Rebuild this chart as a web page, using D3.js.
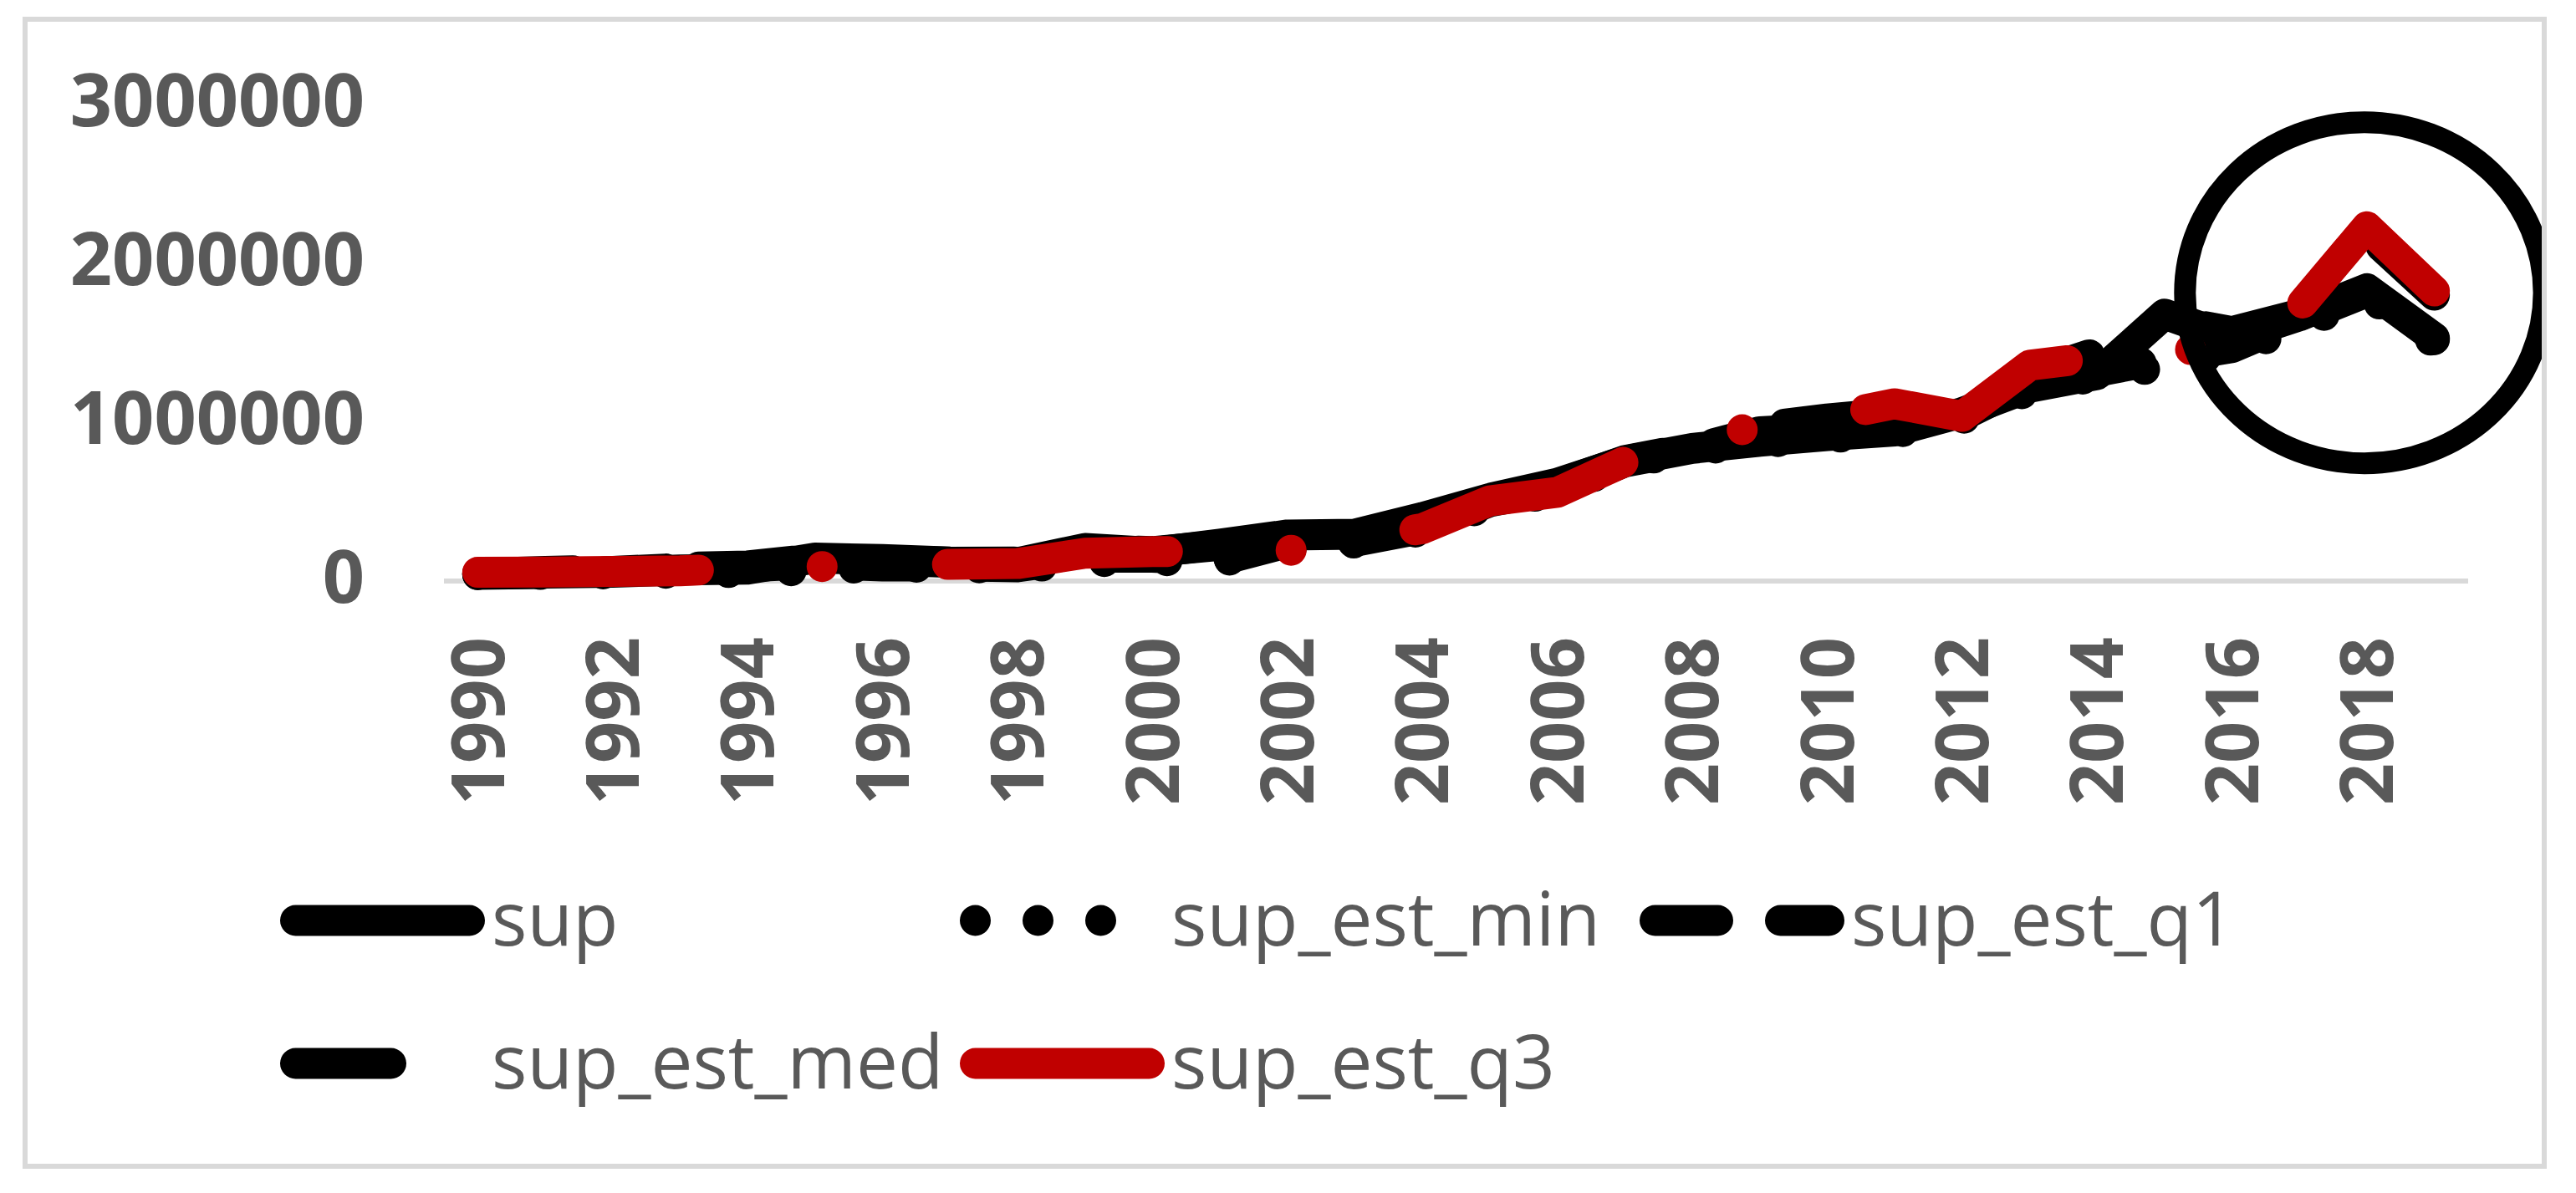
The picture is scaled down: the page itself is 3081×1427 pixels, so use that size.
<!DOCTYPE html>
<html>
<head>
<meta charset="utf-8">
<script src="https://cdn.jsdelivr.net/npm/d3@7"></script>
<style>
  body { margin: 0; background: #fff; }
  svg { display: block; }
  text { font-family: "Open Sans", sans-serif; }
</style>
</head>
<body>
<div id="chart"></div>
<script>
const years = [1990, 1991, 1992, 1993, 1994, 1995, 1996, 1997, 1998, 1999,
               2000, 2001, 2002, 2003, 2004, 2005, 2006, 2007, 2008, 2009,
               2010, 2011, 2012, 2013, 2014, 2015, 2016, 2017, 2018, 2019];

const sup = [45000, 50000, 55000, 70000, 75000, 145000, 135000, 120000, 115000, 205000,
             180000, 232000, 290000, 295000, 400000, 520000, 615000, 755000, 835000, 880000,
             915000, 945000, 1060000, 1220000, 1300000, 1680000, 1530000, 1670000, 1840000, 1530000];
const supEstMin = [40000, 42000, 45000, 50000, 55000, 70000, 90000, 85000, 80000, 120000,
                   130000, 120000, 200000, 240000, 316000, 480000, 560000, 740000, 820000, 870000,
                   900000, 930000, 1020000, 1200000, 1290000, 1350000, 1450000, 1600000, 1800000, 1500000];
const supEstQ1 = [42000, 48000, 60000, 80000, 90000, 110000, 95000, 95000, 90000, 150000,
                  150000, 130000, 240000, 250000, 330000, 500000, 580000, 750000, 830000, 940000,
                  960000, 1000000, 1040000, 1250000, 1320000, 1400000, 1470000, 1650000, 1820000, 1520000];
const supEstMed = [48000, 60000, 70000, 85000, 95000, 140000, 130000, 118000, 120000, 200000,
                   185000, 225000, 285000, 290000, 390000, 515000, 610000, 758000, 840000, 968000,
                   1020000, 1060000, 1100000, 1300000, 1440000, 1650000, 1570000, 1680000, 2190000, 1800000];
const supEstQ3 = [55000, 57000, 60000, 65000, 80000, 90000, 100000, 105000, 110000, 175000,
                  185000, 190000, 190000, 260000, 330000, 505000, 558000, 752000, 860000, 985000,
                  1030000, 1116000, 1037000, 1358000, 1410000, 1450000, 1470000, 1726000, 2230000, 1826000];

const yTicks = [0, 1000000, 2000000, 3000000];
const xTickYears = [1990, 1992, 1994, 1996, 1998, 2000, 2002, 2004, 2006, 2008, 2010, 2012, 2014, 2016, 2018];

const seriesNames = ["sup", "sup_est_min", "sup_est_q1", "sup_est_med", "sup_est_q3"];
const seriesValues = [sup, supEstMin, supEstQ1, supEstMed, supEstQ3];
const seriesColors = ["#000000", "#000000", "#000000", "#000000", "#c00000"];
const seriesDashes = [null, "0 75", "75 75", "114 150", "264 148 0 150"];

const width = 3081;
const height = 1427;
const lineW = 37;

const svg = d3.select("#chart")
    .append("svg")
    .attr("width", width)
    .attr("height", height);

// chart frame
svg.append("rect")
    .attr("x", 30)
    .attr("y", 23)
    .attr("width", 3013)
    .attr("height", 1372)
    .attr("fill", "#fff")
    .attr("stroke", "#d9d9d9")
    .attr("stroke-width", 6);

svg.append("clipPath")
    .attr("id", "frame-clip")
    .append("rect")
    .attr("x", 33)
    .attr("y", 26)
    .attr("width", 3007)
    .attr("height", 1366);

const xScale = d3.scalePoint()
    .domain(years)
    .range([531, 2952])
    .padding(0.5);

const yScale = d3.scaleLinear()
    .domain([0, 3000000])
    .range([695, 125]);

// zero line
svg.append("line")
    .attr("x1", 531)
    .attr("x2", 2952)
    .attr("y1", yScale(0))
    .attr("y2", yScale(0))
    .attr("stroke", "#d9d9d9")
    .attr("stroke-width", 6);

// y axis labels
const yAxis = d3.axisLeft(yScale)
    .tickValues(yTicks)
    .tickFormat(d3.format("d"))
    .tickSize(0)
    .tickPadding(0);

svg.append("g")
    .attr("id", "y-axis")
    .attr("transform", "translate(436, 0)")
    .call(yAxis)
    .call(g => g.select(".domain").remove())
    .selectAll("text")
    .attr("font-family", "Open Sans")
    .attr("font-size", 88)
    .attr("font-weight", "bold")
    .attr("fill", "#595959")
    .attr("dy", "0.32em")
    .attr("y", -3);

// x axis labels
const xAxis = d3.axisBottom(xScale)
    .tickValues(xTickYears)
    .tickSize(0)
    .tickPadding(0);

svg.append("g")
    .attr("id", "x-axis")
    .attr("transform", "translate(0, 762)")
    .call(xAxis)
    .call(g => g.select(".domain").remove())
    .selectAll("text")
    .attr("font-family", "Open Sans")
    .attr("font-size", 88)
    .attr("font-weight", "bold")
    .attr("fill", "#595959")
    .attr("text-anchor", "end")
    .attr("transform", "rotate(-90)")
    .attr("x", 0)
    .attr("y", 0)
    .attr("dy", "0.35em");

// series lines
const line = d3.line()
    .x((d, i) => xScale(years[i]))
    .y(d => yScale(d));

svg.append("g")
    .attr("class", "series")
    .selectAll("path")
    .data(seriesValues)
    .enter()
    .append("path")
    .attr("d", d => line(d))
    .attr("fill", "none")
    .attr("stroke", (d, i) => seriesColors[i])
    .attr("stroke-width", lineW)
    .attr("stroke-linecap", "round")
    .attr("stroke-linejoin", "round")
    .attr("stroke-dasharray", (d, i) => seriesDashes[i]);

// highlight circle round the last years
svg.append("ellipse")
    .attr("clip-path", "url(#frame-clip)")
    .attr("cx", xScale(2018) - 3)
    .attr("cy", yScale(1815000))
    .attr("rx", xScale.step() * 2.66)
    .attr("ry", 204)
    .attr("fill", "none")
    .attr("stroke", "#000")
    .attr("stroke-width", 26);

// legend
const legendCols = [335, 1148, 1961];
const legendRows = [1101, 1272];

const legend = svg.append("g")
    .attr("class", "legend")
    .selectAll("g")
    .data(seriesNames)
    .enter()
    .append("g")
    .attr("transform", (d, i) => `translate(${legendCols[i % 3]}, ${legendRows[Math.floor(i / 3)]})`);

legend.append("line")
    .attr("x1", lineW / 2)
    .attr("x2", lineW / 2 + 208)
    .attr("y1", 0)
    .attr("y2", 0)
    .attr("stroke", (d, i) => seriesColors[i])
    .attr("stroke-width", lineW)
    .attr("stroke-linecap", "round")
    .attr("stroke-dasharray", (d, i) => seriesDashes[i]);

legend.append("text")
    .attr("x", 253)
    .attr("y", 30)
    .attr("font-size", 89)
    .attr("fill", "#595959")
    .text(d => d);
</script>
</body>
</html>
